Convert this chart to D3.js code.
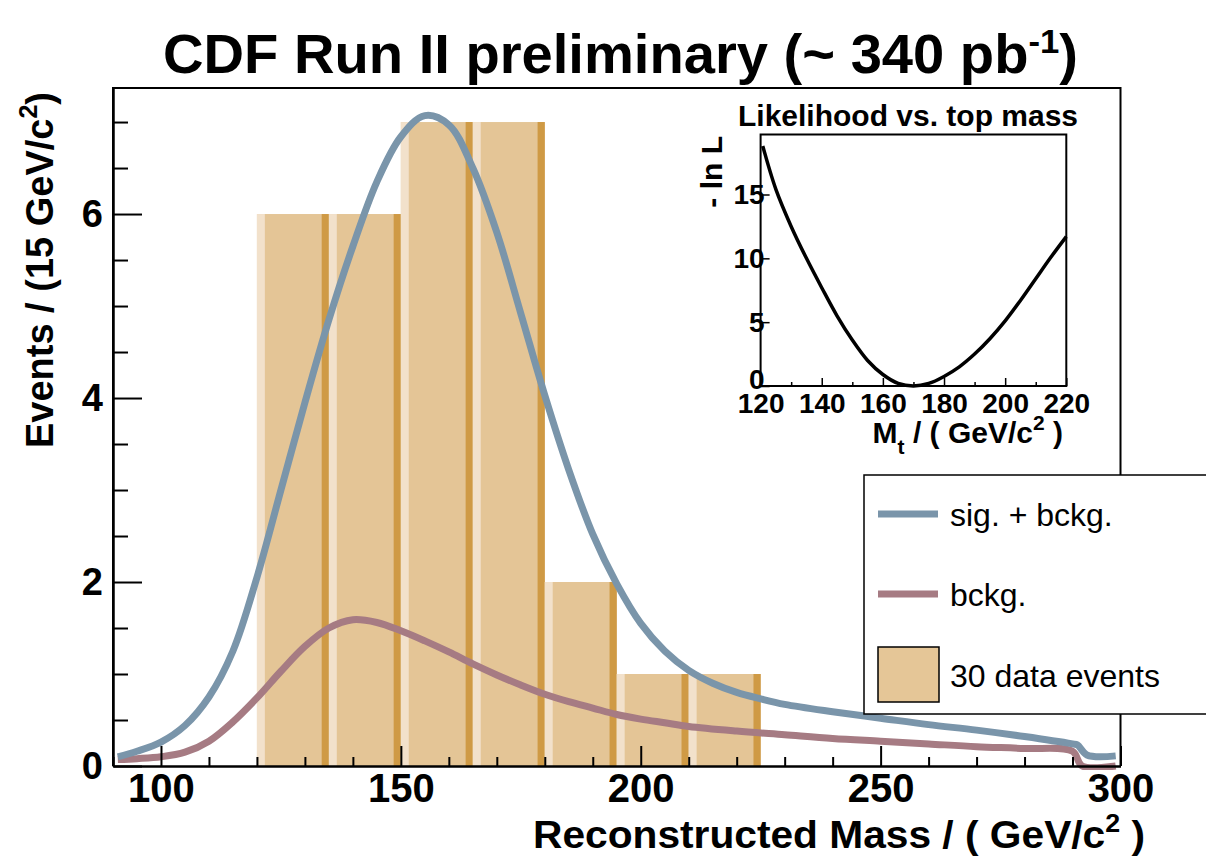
<!DOCTYPE html>
<html>
<head>
<meta charset="utf-8">
<title>CDF Run II top mass</title>
<script src="https://d3js.org/d3.v7.min.js"></script>
<style>
  body { margin: 0; background: #fff; }
  text { font-family: "Liberation Sans", Arial, Helvetica, sans-serif; fill: #000; }
</style>
</head>
<body>
<div id="chart"></div>
<script>
// data histogram, 15 GeV/c^2 bins (30 events)
var binStart = [120, 135, 150, 165, 180, 195, 210];
var binCount = [6, 6, 7, 7, 2, 1, 1];
var binWidth = 15;

// sig. + bckg. template
var sigMass = [91, 95, 100, 105, 110, 115, 120, 125, 130, 135, 140, 145, 150, 155, 160, 165, 170, 175, 180,
               185, 190, 195, 200, 205, 210, 215, 220, 225, 230, 240, 250, 260, 270, 280, 290, 291, 293, 299];
var sigEvents = [0.10, 0.16, 0.26, 0.44, 0.75, 1.25, 2.05, 3.0, 3.95, 4.85, 5.65, 6.35, 6.84, 7.07, 6.97, 6.5, 5.8, 4.92, 4.03,
                 3.22, 2.52, 1.98, 1.55, 1.25, 1.04, 0.9, 0.8, 0.73, 0.67, 0.59, 0.52, 0.45, 0.39, 0.32, 0.24, 0.23, 0.12, 0.11];

// bckg. template
var bkgMass = [91, 95, 100, 105, 110, 115, 120, 125, 130, 135, 140, 145, 150, 155, 160, 165, 170, 175, 180,
               185, 190, 195, 200, 205, 210, 220, 230, 240, 250, 260, 270, 280, 290, 292, 299];
var bkgEvents = [0.07, 0.08, 0.10, 0.15, 0.27, 0.48, 0.74, 1.03, 1.30, 1.50, 1.59, 1.56, 1.47, 1.36, 1.24, 1.11, 0.99, 0.88, 0.78,
                 0.70, 0.63, 0.56, 0.51, 0.47, 0.43, 0.38, 0.34, 0.30, 0.27, 0.24, 0.21, 0.19, 0.16, 0.0, 0.0];

// inset: -ln L vs top mass
var topMass = [120.7, 125, 130, 135, 140, 145, 150, 155, 160, 165, 170, 175, 180, 185, 190, 195, 200, 205, 210, 215, 220];
var negLnL = [18.8, 15.4, 12.5, 10.0, 7.7, 5.5, 3.6, 2.0, 0.9, 0.2, 0.0, 0.2, 0.75, 1.5, 2.5, 3.7, 5.1, 6.7, 8.4, 10.1, 11.7];

var xMajor = [100, 150, 200, 250, 300];
var yMajor = [0, 2, 4, 6];
var insetXMajor = [120, 140, 160, 180, 200, 220];
var insetYMajor = [0, 5, 10, 15];

var W = 1206, H = 857;
var svg = d3.select("#chart").append("svg")
    .attr("width", W).attr("height", H);

var x = d3.scaleLinear().domain([90, 300]).range([113, 1120.5]);
var y = d3.scaleLinear().domain([0, 7.37]).range([766, 88]);

svg.append("clipPath").attr("id", "frameClip")
  .append("rect")
    .attr("x", x(90)).attr("y", y(7.37))
    .attr("width", x(300) - x(90)).attr("height", y(0) - y(7.37) + 4);

// bars: light edge on the left, dark edge on the right
var bars = svg.append("g").selectAll("g")
    .data(binStart.map(function (s, i) { return { x0: s, n: binCount[i] }; }))
    .enter().append("g");

bars.append("rect")
    .attr("x", function (d) { return x(d.x0); })
    .attr("y", function (d) { return y(d.n); })
    .attr("width", function (d) { return x(d.x0 + binWidth) - x(d.x0); })
    .attr("height", function (d) { return y(0) - y(d.n); })
    .attr("fill", "#e4c596");
bars.append("rect")
    .attr("x", function (d) { return x(d.x0); })
    .attr("y", function (d) { return y(d.n); })
    .attr("width", function (d) { return x(d.x0 + binWidth * 0.11) - x(d.x0); })
    .attr("height", function (d) { return y(0) - y(d.n); })
    .attr("fill", "#f2e1cb");
bars.append("rect")
    .attr("x", function (d) { return x(d.x0 + binWidth * 0.9); })
    .attr("y", function (d) { return y(d.n); })
    .attr("width", function (d) { return x(d.x0 + binWidth) - x(d.x0 + binWidth * 0.9); })
    .attr("height", function (d) { return y(0) - y(d.n); })
    .attr("fill", "#cf9a45");

var line = d3.line()
    .x(function (d) { return x(d[0]); })
    .y(function (d) { return y(d[1]); })
    .curve(d3.curveCatmullRom.alpha(0.5));

svg.append("path")
    .datum(bkgMass.map(function (m, i) { return [m, bkgEvents[i]]; }))
    .attr("d", line)
    .attr("clip-path", "url(#frameClip)")
    .attr("fill", "none").attr("stroke", "#a67b83").attr("stroke-width", 7);

svg.append("path")
    .datum(sigMass.map(function (m, i) { return [m, sigEvents[i]]; }))
    .attr("d", line)
    .attr("clip-path", "url(#frameClip)")
    .attr("fill", "none").attr("stroke", "#7a95aa").attr("stroke-width", 7);

// frame
svg.append("path")
    .attr("d", "M" + x(90) + "," + y(0) + "V" + y(7.37) + "H" + x(300) + "V" + y(0))
    .attr("fill", "none").attr("stroke", "#000").attr("stroke-width", 2);

// x axis
var xMinor = d3.range(90, 301, 10).filter(function (v) { return v % 50 !== 0; });
svg.append("g").attr("transform", "translate(0," + y(0) + ")")
    .call(d3.axisBottom(x).tickValues(xMinor).tickSize(-9).tickSizeOuter(0).tickFormat(""))
    .call(function (g) { g.select(".domain").remove(); g.selectAll("line").attr("stroke-width", 2); });
var xAxis = svg.append("g").attr("transform", "translate(0," + y(0) + ")")
    .call(d3.axisBottom(x).tickValues(xMajor).tickSize(-20).tickSizeOuter(0).tickPadding(8));
xAxis.select(".domain").attr("stroke-width", 2.5);
xAxis.selectAll("line").attr("stroke-width", 2);
xAxis.selectAll("text").attr("font-size", 40).attr("font-weight", "bold");

// y axis
var yMinor = d3.range(0.5, 7.1, 0.5).filter(function (v) { return v % 2 !== 0; });
svg.append("g").attr("transform", "translate(" + x(90) + ",0)")
    .call(d3.axisLeft(y).tickValues(yMinor).tickSize(-15).tickSizeOuter(0).tickFormat(""))
    .call(function (g) { g.select(".domain").remove(); g.selectAll("line").attr("stroke-width", 2); });
var yAxis = svg.append("g").attr("transform", "translate(" + x(90) + ",0)")
    .call(d3.axisLeft(y).tickValues(yMajor).tickSize(-29).tickSizeOuter(0).tickPadding(10));
yAxis.select(".domain").attr("stroke-width", 2.5);
yAxis.selectAll("line").attr("stroke-width", 2);
yAxis.selectAll("text").attr("font-size", 38).attr("font-weight", "bold");

// titles
var title = svg.append("text")
    .attr("x", 163).attr("y", 73)
    .attr("font-size", 55).attr("font-weight", "bold")
    .attr("textLength", 915).attr("lengthAdjust", "spacingAndGlyphs");
title.append("tspan").text("CDF Run II preliminary (~ 340 pb");
title.append("tspan").attr("dy", -20).attr("font-size", 34).text("-1");
title.append("tspan").attr("dy", 20).text(")");

var xTitle = svg.append("text")
    .attr("x", 1145).attr("y", 848)
    .attr("text-anchor", "end")
    .attr("font-size", 38).attr("font-weight", "bold")
    .attr("textLength", 612).attr("lengthAdjust", "spacingAndGlyphs");
xTitle.append("tspan").text("Reconstructed Mass / ( GeV/c");
xTitle.append("tspan").attr("dy", -16).attr("font-size", 25).text("2");
xTitle.append("tspan").attr("dy", 16).text(" )");

var yTitle = svg.append("text")
    .attr("transform", "translate(53,92) rotate(-90)")
    .attr("text-anchor", "end")
    .attr("font-size", 38).attr("font-weight", "bold");
yTitle.append("tspan").text("Events / (15 GeV/c");
yTitle.append("tspan").attr("dy", -16).attr("font-size", 25).text("2");
yTitle.append("tspan").attr("dy", 16).text(")");

// inset: likelihood
var xi = d3.scaleLinear().domain([120, 220]).range([760.6, 1066.3]);
var yi = d3.scaleLinear().domain([0, 19.7]).range([386, 134.5]);

svg.append("path")
    .datum(topMass.map(function (m, i) { return [m, negLnL[i]]; }))
    .attr("d", d3.line()
        .x(function (d) { return xi(d[0]); })
        .y(function (d) { return yi(d[1]); })
        .curve(d3.curveCatmullRom.alpha(0.5)))
    .attr("fill", "none").attr("stroke", "#000").attr("stroke-width", 3.5);

svg.append("rect")
    .attr("x", xi(120)).attr("y", yi(19.7))
    .attr("width", xi(220) - xi(120)).attr("height", yi(0) - yi(19.7))
    .attr("fill", "none").attr("stroke", "#000").attr("stroke-width", 2);

svg.append("g").attr("transform", "translate(0," + yi(0) + ")")
    .call(d3.axisBottom(xi).tickValues(d3.range(130, 220, 20)).tickSize(-4).tickSizeOuter(0).tickFormat(""))
    .call(function (g) { g.select(".domain").remove(); g.selectAll("line").attr("stroke-width", 1.5); });
var xiAxis = svg.append("g").attr("transform", "translate(0," + yi(0) + ")")
    .call(d3.axisBottom(xi).tickValues(insetXMajor).tickSize(-8).tickSizeOuter(0).tickPadding(7));
xiAxis.select(".domain").remove();
xiAxis.selectAll("line").attr("stroke-width", 1.5);
xiAxis.selectAll("text").attr("font-size", 28).attr("font-weight", "bold");

var yiAxis = svg.append("g").attr("transform", "translate(" + xi(120) + ",0)")
    .call(d3.axisLeft(yi).tickValues(insetYMajor).tickSize(-9).tickSizeOuter(0).tickPadding(-4));
yiAxis.select(".domain").remove();
yiAxis.selectAll("line").attr("stroke-width", 1.5);
yiAxis.selectAll("text").attr("font-size", 28).attr("font-weight", "bold");
// lift the "0" a little so it clears the "120" below it
yiAxis.selectAll(".tick text").filter(function (d) { return d === 0; }).attr("dy", "0.1em");

svg.append("text")
    .attr("x", 908).attr("y", 126)
    .attr("text-anchor", "middle")
    .attr("font-size", 29).attr("font-weight", "bold")
    .attr("textLength", 340).attr("lengthAdjust", "spacingAndGlyphs")
    .text("Likelihood vs. top mass");

var xiTitle = svg.append("text")
    .attr("x", 1063).attr("y", 443)
    .attr("text-anchor", "end")
    .attr("font-size", 30).attr("font-weight", "bold");
xiTitle.append("tspan").text("M");
xiTitle.append("tspan").attr("dy", 11).attr("font-size", 21).text("t");
xiTitle.append("tspan").attr("dy", -11).text(" / ( GeV/c");
xiTitle.append("tspan").attr("dy", -13).attr("font-size", 21).text("2");
xiTitle.append("tspan").attr("dy", 13).text(" )");

svg.append("text")
    .attr("transform", "translate(722,136) rotate(-90)")
    .attr("text-anchor", "end")
    .attr("font-size", 30).attr("font-weight", "bold")
    .text("- ln L");

// legend
var legend = svg.append("g");
legend.append("rect")
    .attr("x", 864).attr("y", 475).attr("width", 380).attr("height", 239)
    .attr("fill", "#fff").attr("stroke", "#000").attr("stroke-width", 1.5);

var legendItems = [
    { label: "sig. + bckg.", color: "#7a95aa", type: "line", y: 514 },
    { label: "bckg.", color: "#a67b83", type: "line", y: 594 },
    { label: "30 data events", color: "#e5c697", type: "box", y: 675 }
];
legendItems.forEach(function (d) {
    if (d.type === "line") {
        legend.append("line")
            .attr("x1", 878).attr("x2", 938).attr("y1", d.y).attr("y2", d.y)
            .attr("stroke", d.color).attr("stroke-width", 7);
    } else {
        legend.append("rect")
            .attr("x", 878).attr("y", 647).attr("width", 61).attr("height", 55)
            .attr("fill", d.color).attr("stroke", "#000").attr("stroke-width", 1.5);
    }
    legend.append("text")
        .attr("x", 950).attr("y", d.y + 12)
        .attr("font-size", 32)
        .text(d.label);
});
</script>
</body>
</html>
